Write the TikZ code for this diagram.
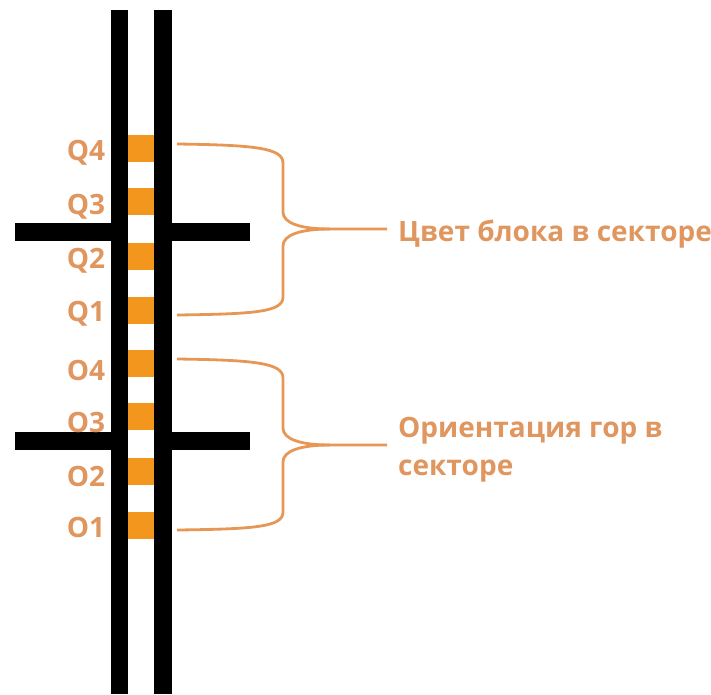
\documentclass[tikz,border=0pt]{standalone}
\usepackage{fontspec}
\setmainfont{Open Sans}
\begin{document}
\begin{tikzpicture}[x=1pt,y=-1pt,
  bar/.style={line width=17.5pt},
  blk/.style={fill=sqor, draw=none, minimum width=26pt, minimum height=27pt, inner sep=0pt},
  lbl/.style={text=txor, font=\bfseries\fontsize{28}{38}\selectfont, inner sep=0pt},
  brc/.style={draw=brcol, line width=2.8pt}]
\definecolor{sqor}{RGB}{243,150,30}
\definecolor{txor}{RGB}{224,150,95}
\definecolor{brcol}{RGB}{230,150,85}
\useasboundingbox (0,0) rectangle (711,694);
% horizontal bars
\draw[bar] (15,232) -- (119,232);
\draw[bar] (163,232) -- (250,232);
\draw[bar] (15,441) -- (119,441);
\draw[bar] (163,441) -- (250,441);
% vertical bars
\draw[bar] (119.5,10) -- (119.5,694);
\draw[bar] (163,10) -- (163,694);
% blocks
\foreach \n/\y in {q4/148,q3/201,q2/256,q1/310,o4/363,o3/416,o2/471,o1/525}
  \node[blk] (\n) at (141,\y) {};
% labels
\node[lbl] (lq4) at (86,153) {Q4};
\node[lbl] (lq3) at (86,207) {Q3};
\node[lbl] (lq2) at (86,261) {Q2};
\node[lbl] (lq1) at (86,314) {Q1};
\node[lbl] (lo4) at (86,370) {O4};
\node[lbl] (lo3) at (86,422) {O3};
\node[lbl] (lo2) at (86,476) {O2};
\node[lbl] (lo1) at (86,527) {O1};
% brace ends
\coordinate (a1) at (177,144);
\coordinate (a2) at (177,315);
\coordinate (t1) at (387,229);
\coordinate (b1) at (177,359);
\coordinate (b2) at (177,530);
\coordinate (t2) at (387,445);
% texts
\node[lbl, anchor=west] (cb) at (398,234) {Цвет блока в секторе};
\node[lbl, anchor=west, align=left] (og) at (398,450) {Ориентация гор в\\секторе};
% braces
\draw[brc] (a1) .. controls (255,145) and (283,148) .. (283,163) -- (283,212)
  .. controls (283,223) and (300,229) .. (330,229) -- (t1);
\draw[brc] (330,229) .. controls (300,229) and (283,235) .. (283,246) -- (283,297)
  .. controls (283,312) and (255,314) .. (a2);
\draw[brc] (b1) .. controls (255,360) and (283,363) .. (283,378) -- (283,428)
  .. controls (283,439) and (300,445) .. (330,445) -- (t2);
\draw[brc] (330,445) .. controls (300,445) and (283,451) .. (283,462) -- (283,512)
  .. controls (283,527) and (255,529) .. (b2);
\end{tikzpicture}
\end{document}
